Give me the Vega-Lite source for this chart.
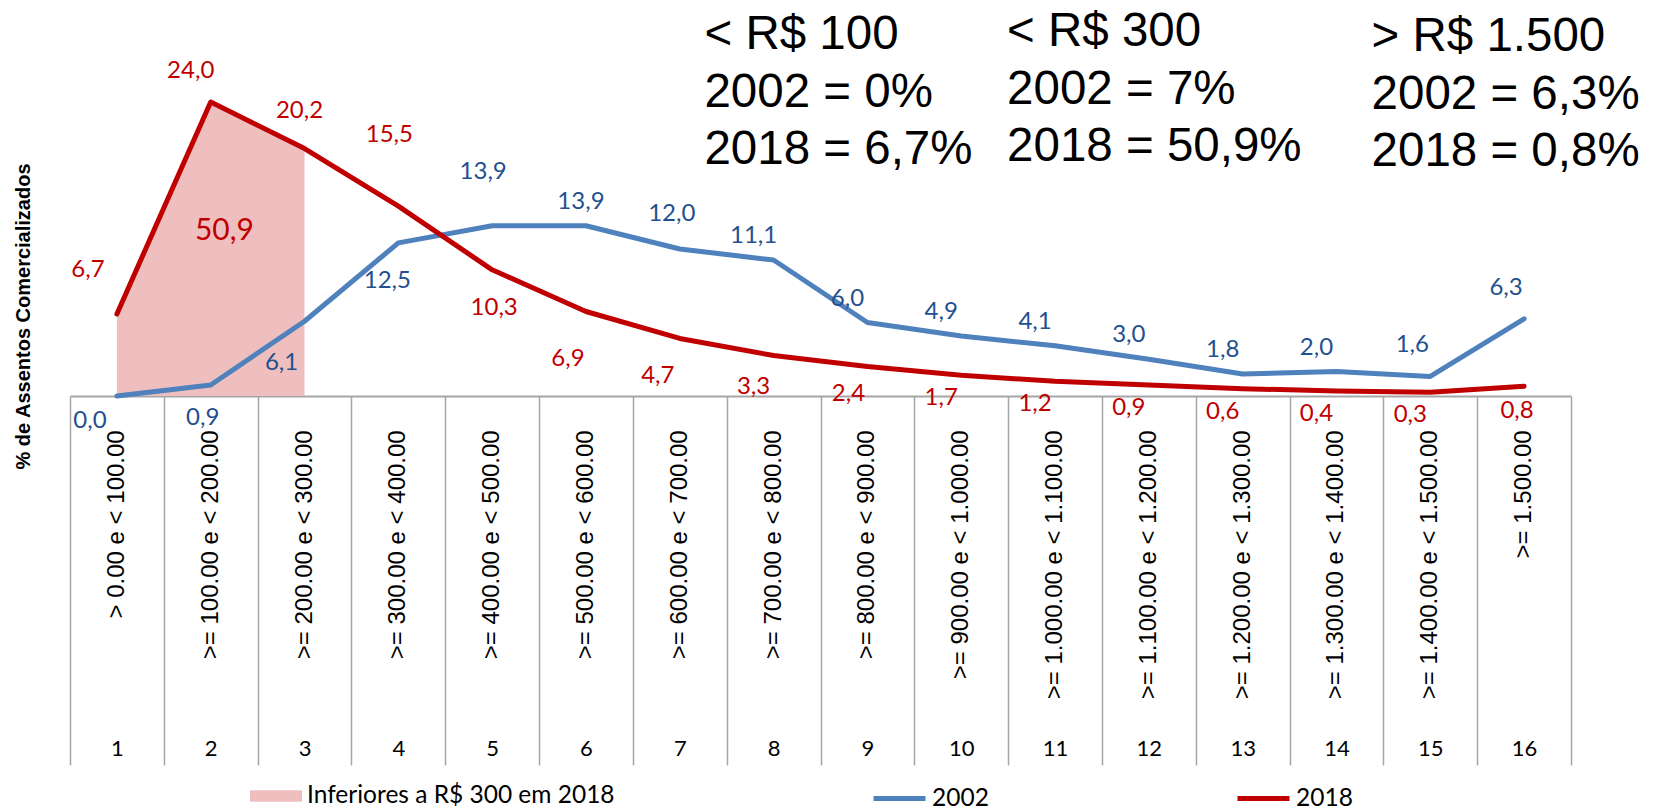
{
  "$schema": "https://vega.github.io/schema/vega-lite/v6.json",
  "width": 1501,
  "height": 392,
  "autosize": {"type": "none"},
  "padding": {"left": 70, "top": 4, "right": 93, "bottom": 412},
  "background": "#ffffff",
  "config": {
    "view": {"stroke": null},
    "locale": {"number": {"decimal": ",", "thousands": ".", "grouping": [3], "currency": ["R$ ", ""]}},
    "text": {"font": "Lato", "fontSize": 24}
  },
  "datasets": {
    "serie": [
      {"cat": 1, "series": "2002", "value": 0.0},
      {"cat": 2, "series": "2002", "value": 0.9},
      {"cat": 3, "series": "2002", "value": 6.1},
      {"cat": 4, "series": "2002", "value": 12.5},
      {"cat": 5, "series": "2002", "value": 13.9},
      {"cat": 6, "series": "2002", "value": 13.9},
      {"cat": 7, "series": "2002", "value": 12.0},
      {"cat": 8, "series": "2002", "value": 11.1},
      {"cat": 9, "series": "2002", "value": 6.0},
      {"cat": 10, "series": "2002", "value": 4.9},
      {"cat": 11, "series": "2002", "value": 4.1},
      {"cat": 12, "series": "2002", "value": 3.0},
      {"cat": 13, "series": "2002", "value": 1.8},
      {"cat": 14, "series": "2002", "value": 2.0},
      {"cat": 15, "series": "2002", "value": 1.6},
      {"cat": 16, "series": "2002", "value": 6.3},
      {"cat": 1, "series": "2018", "value": 6.7},
      {"cat": 2, "series": "2018", "value": 24.0},
      {"cat": 3, "series": "2018", "value": 20.2},
      {"cat": 4, "series": "2018", "value": 15.5},
      {"cat": 5, "series": "2018", "value": 10.3},
      {"cat": 6, "series": "2018", "value": 6.9},
      {"cat": 7, "series": "2018", "value": 4.7},
      {"cat": 8, "series": "2018", "value": 3.3},
      {"cat": 9, "series": "2018", "value": 2.4},
      {"cat": 10, "series": "2018", "value": 1.7},
      {"cat": 11, "series": "2018", "value": 1.2},
      {"cat": 12, "series": "2018", "value": 0.9},
      {"cat": 13, "series": "2018", "value": 0.6},
      {"cat": 14, "series": "2018", "value": 0.4},
      {"cat": 15, "series": "2018", "value": 0.3},
      {"cat": 16, "series": "2018", "value": 0.8}
    ],
    "categorias": [
      {"cat": 1, "faixa": "> 0.00 e < 100.00"},
      {"cat": 2, "faixa": ">= 100.00 e < 200.00"},
      {"cat": 3, "faixa": ">= 200.00 e < 300.00"},
      {"cat": 4, "faixa": ">= 300.00 e < 400.00"},
      {"cat": 5, "faixa": ">= 400.00 e < 500.00"},
      {"cat": 6, "faixa": ">= 500.00 e < 600.00"},
      {"cat": 7, "faixa": ">= 600.00 e < 700.00"},
      {"cat": 8, "faixa": ">= 700.00 e < 800.00"},
      {"cat": 9, "faixa": ">= 800.00 e < 900.00"},
      {"cat": 10, "faixa": ">= 900.00 e < 1.000.00"},
      {"cat": 11, "faixa": ">= 1.000.00 e < 1.100.00"},
      {"cat": 12, "faixa": ">= 1.100.00 e < 1.200.00"},
      {"cat": 13, "faixa": ">= 1.200.00 e < 1.300.00"},
      {"cat": 14, "faixa": ">= 1.300.00 e < 1.400.00"},
      {"cat": 15, "faixa": ">= 1.400.00 e < 1.500.00"},
      {"cat": 16, "faixa": ">= 1.500.00"}
    ],
    "notas": [
      {"id": "a", "texto": "< R$ 100\n2002 = 0%\n2018 = 6,7%"},
      {"id": "b", "texto": "< R$ 300\n2002 = 7%\n2018 = 50,9%"},
      {"id": "c", "texto": "> R$ 1.500\n2002 = 6,3%\n2018 = 0,8%"},
      {"id": "d", "texto": "50,9"}
    ]
  },
  "layer": [
    {
      "data": {"name": "serie"},
      "transform": [{"filter": "datum.series == '2018' && datum.cat <= 3"}],
      "mark": {"type": "area", "opacity": 1, "interpolate": "linear"},
      "encoding": {
        "x": {"field": "cat", "type": "ordinal", "bandPosition": 0.5,
          "scale": {"type": "band", "paddingInner": 0, "paddingOuter": 0},
          "axis": {"title": null, "tickBand": "extent", "tickSize": 369, "tickColor": "#A6A6A6", "tickWidth": 1.5,
            "domainColor": "#A6A6A6", "domainWidth": 2, "labelAngle": 0,
            "labelFont": "Lato", "labelFontSize": 22, "labelColor": "#000000",
            "labelBaseline": "middle", "labelPadding": -17, "grid": false}},
        "y": {"field": "value", "type": "quantitative",
          "scale": {"domain": [0, 32], "nice": false, "zero": true},
          "axis": {"title": "% de Assentos Comercializados", "domain": false, "ticks": false, "labels": false, "grid": false,
            "titleFont": "Liberation Sans", "titleFontSize": 20, "titleFontWeight": "bold", "titleColor": "#000000",
            "titleAngle": 270, "titleAlign": "center", "titleBaseline": "middle", "titleX": -47, "titleY": 312}},
        "y2": {"datum": 0},
        "fill": {"datum": "Inferiores a R$ 300 em 2018", "type": "nominal",
          "scale": {"range": ["#EFBFBF"]},
          "legend": {"orient": "none", "legendX": 180, "legendY": 766, "title": null,
            "symbolType": "M-1,-0.22H1V0.22H-1Z", "symbolSize": 2704, "symbolStrokeWidth": 0, "symbolOpacity": 1,
            "labelFont": "Lato", "labelFontSize": 24.5, "labelColor": "#000000",
            "labelOffset": 5, "padding": 0, "labelLimit": 500}}
      }
    },
    {
      "data": {"name": "serie"},
      "mark": {"type": "line", "strokeWidth": 5, "strokeJoin": "round", "strokeCap": "round"},
      "encoding": {
        "x": {"field": "cat", "type": "ordinal", "bandPosition": 0.5},
        "y": {"field": "value", "type": "quantitative"},
        "stroke": {"field": "series", "type": "nominal",
          "scale": {"domain": ["2002", "2018"], "range": ["#4F81BD", "#C00000"]},
          "legend": {"orient": "none", "legendX": 801, "legendY": 766, "direction": "vertical", "columns": 2, "title": null,
            "symbolType": "stroke", "symbolSize": 2704, "symbolStrokeWidth": 5,
            "labelFont": "Lato", "labelFontSize": 24.5, "labelColor": "#000000", "labelLimit": 500,
            "labelOffset": 4, "columnPadding": 238, "padding": 0}}
      }
    },
    {
      "data": {"name": "categorias"},
      "mark": {"type": "text", "angle": 270, "align": "right", "baseline": "middle", "font": "Liberation Sans", "fontSize": 24, "color": "#000000"},
      "encoding": {
        "x": {"field": "cat", "type": "ordinal", "bandPosition": 0.5},
        "y": {"datum": -2.8, "type": "quantitative"},
        "text": {"field": "faixa"}
      }
    },
    {"data": {"name": "serie"}, "transform": [{"filter": "datum.series == '2018' && datum.cat == 1"}],
      "mark": {"type": "text", "dx": -29, "dy": -44, "color": "#C00000"},
      "encoding": {"x": {"field": "cat", "type": "ordinal", "bandPosition": 0.5}, "y": {"field": "value", "type": "quantitative"}, "text": {"field": "value", "type": "quantitative", "format": ".1f"}}},
    {"data": {"name": "serie"}, "transform": [{"filter": "datum.series == '2018' && datum.cat == 2"}],
      "mark": {"type": "text", "dx": -20, "dy": -31, "color": "#C00000"},
      "encoding": {"x": {"field": "cat", "type": "ordinal", "bandPosition": 0.5}, "y": {"field": "value", "type": "quantitative"}, "text": {"field": "value", "type": "quantitative", "format": ".1f"}}},
    {"data": {"name": "serie"}, "transform": [{"filter": "datum.series == '2018' && datum.cat == 3"}],
      "mark": {"type": "text", "dx": -5, "dy": -38, "color": "#C00000"},
      "encoding": {"x": {"field": "cat", "type": "ordinal", "bandPosition": 0.5}, "y": {"field": "value", "type": "quantitative"}, "text": {"field": "value", "type": "quantitative", "format": ".1f"}}},
    {"data": {"name": "serie"}, "transform": [{"filter": "datum.series == '2018' && datum.cat == 4"}],
      "mark": {"type": "text", "dx": -9, "dy": -71, "color": "#C00000"},
      "encoding": {"x": {"field": "cat", "type": "ordinal", "bandPosition": 0.5}, "y": {"field": "value", "type": "quantitative"}, "text": {"field": "value", "type": "quantitative", "format": ".1f"}}},
    {"data": {"name": "serie"}, "transform": [{"filter": "datum.series == '2018' && datum.cat == 5"}],
      "mark": {"type": "text", "dx": 2, "dy": 38, "color": "#C00000"},
      "encoding": {"x": {"field": "cat", "type": "ordinal", "bandPosition": 0.5}, "y": {"field": "value", "type": "quantitative"}, "text": {"field": "value", "type": "quantitative", "format": ".1f"}}},
    {"data": {"name": "serie"}, "transform": [{"filter": "datum.series == '2018' && datum.cat == 6"}],
      "mark": {"type": "text", "dx": -18, "dy": 48, "color": "#C00000"},
      "encoding": {"x": {"field": "cat", "type": "ordinal", "bandPosition": 0.5}, "y": {"field": "value", "type": "quantitative"}, "text": {"field": "value", "type": "quantitative", "format": ".1f"}}},
    {"data": {"name": "serie"}, "transform": [{"filter": "datum.series == '2018' && datum.cat == 7"}],
      "mark": {"type": "text", "dx": -22, "dy": 38, "color": "#C00000"},
      "encoding": {"x": {"field": "cat", "type": "ordinal", "bandPosition": 0.5}, "y": {"field": "value", "type": "quantitative"}, "text": {"field": "value", "type": "quantitative", "format": ".1f"}}},
    {"data": {"name": "serie"}, "transform": [{"filter": "datum.series == '2018' && datum.cat == 8"}],
      "mark": {"type": "text", "dx": -20, "dy": 31, "color": "#C00000"},
      "encoding": {"x": {"field": "cat", "type": "ordinal", "bandPosition": 0.5}, "y": {"field": "value", "type": "quantitative"}, "text": {"field": "value", "type": "quantitative", "format": ".1f"}}},
    {"data": {"name": "serie"}, "transform": [{"filter": "datum.series == '2018' && datum.cat == 9"}],
      "mark": {"type": "text", "dx": -19, "dy": 27, "color": "#C00000"},
      "encoding": {"x": {"field": "cat", "type": "ordinal", "bandPosition": 0.5}, "y": {"field": "value", "type": "quantitative"}, "text": {"field": "value", "type": "quantitative", "format": ".1f"}}},
    {"data": {"name": "serie"}, "transform": [{"filter": "datum.series == '2018' && datum.cat >= 10 && datum.cat <= 15"}],
      "mark": {"type": "text", "dx": -20, "dy": 23, "color": "#C00000"},
      "encoding": {"x": {"field": "cat", "type": "ordinal", "bandPosition": 0.5}, "y": {"field": "value", "type": "quantitative"}, "text": {"field": "value", "type": "quantitative", "format": ".1f"}}},
    {"data": {"name": "serie"}, "transform": [{"filter": "datum.series == '2018' && datum.cat == 16"}],
      "mark": {"type": "text", "dx": -7, "dy": 25, "color": "#C00000"},
      "encoding": {"x": {"field": "cat", "type": "ordinal", "bandPosition": 0.5}, "y": {"field": "value", "type": "quantitative"}, "text": {"field": "value", "type": "quantitative", "format": ".1f"}}},
    {"data": {"name": "serie"}, "transform": [{"filter": "datum.series == '2002' && datum.cat == 1"}],
      "mark": {"type": "text", "dx": -27, "dy": 25, "color": "#22508F"},
      "encoding": {"x": {"field": "cat", "type": "ordinal", "bandPosition": 0.5}, "y": {"field": "value", "type": "quantitative"}, "text": {"field": "value", "type": "quantitative", "format": ".1f"}}},
    {"data": {"name": "serie"}, "transform": [{"filter": "datum.series == '2002' && datum.cat == 2"}],
      "mark": {"type": "text", "dx": -8, "dy": 33, "color": "#22508F"},
      "encoding": {"x": {"field": "cat", "type": "ordinal", "bandPosition": 0.5}, "y": {"field": "value", "type": "quantitative"}, "text": {"field": "value", "type": "quantitative", "format": ".1f"}}},
    {"data": {"name": "serie"}, "transform": [{"filter": "datum.series == '2002' && datum.cat == 3"}],
      "mark": {"type": "text", "dx": -23, "dy": 42, "color": "#22508F"},
      "encoding": {"x": {"field": "cat", "type": "ordinal", "bandPosition": 0.5}, "y": {"field": "value", "type": "quantitative"}, "text": {"field": "value", "type": "quantitative", "format": ".1f"}}},
    {"data": {"name": "serie"}, "transform": [{"filter": "datum.series == '2002' && datum.cat == 4"}],
      "mark": {"type": "text", "dx": -11, "dy": 38, "color": "#22508F"},
      "encoding": {"x": {"field": "cat", "type": "ordinal", "bandPosition": 0.5}, "y": {"field": "value", "type": "quantitative"}, "text": {"field": "value", "type": "quantitative", "format": ".1f"}}},
    {"data": {"name": "serie"}, "transform": [{"filter": "datum.series == '2002' && datum.cat == 5"}],
      "mark": {"type": "text", "dx": -9, "dy": -54, "color": "#22508F"},
      "encoding": {"x": {"field": "cat", "type": "ordinal", "bandPosition": 0.5}, "y": {"field": "value", "type": "quantitative"}, "text": {"field": "value", "type": "quantitative", "format": ".1f"}}},
    {"data": {"name": "serie"}, "transform": [{"filter": "datum.series == '2002' && datum.cat == 6"}],
      "mark": {"type": "text", "dx": -5, "dy": -24, "color": "#22508F"},
      "encoding": {"x": {"field": "cat", "type": "ordinal", "bandPosition": 0.5}, "y": {"field": "value", "type": "quantitative"}, "text": {"field": "value", "type": "quantitative", "format": ".1f"}}},
    {"data": {"name": "serie"}, "transform": [{"filter": "datum.series == '2002' && datum.cat == 7"}],
      "mark": {"type": "text", "dx": -8, "dy": -35, "color": "#22508F"},
      "encoding": {"x": {"field": "cat", "type": "ordinal", "bandPosition": 0.5}, "y": {"field": "value", "type": "quantitative"}, "text": {"field": "value", "type": "quantitative", "format": ".1f"}}},
    {"data": {"name": "serie"}, "transform": [{"filter": "datum.series == '2002' && datum.cat >= 8 && datum.cat <= 14"}],
      "mark": {"type": "text", "dx": -20, "dy": -24, "color": "#22508F"},
      "encoding": {"x": {"field": "cat", "type": "ordinal", "bandPosition": 0.5}, "y": {"field": "value", "type": "quantitative"}, "text": {"field": "value", "type": "quantitative", "format": ".1f"}}},
    {"data": {"name": "serie"}, "transform": [{"filter": "datum.series == '2002' && datum.cat >= 15"}],
      "mark": {"type": "text", "dx": -18, "dy": -31, "color": "#22508F"},
      "encoding": {"x": {"field": "cat", "type": "ordinal", "bandPosition": 0.5}, "y": {"field": "value", "type": "quantitative"}, "text": {"field": "value", "type": "quantitative", "format": ".1f"}}},
    {
      "data": {"name": "notas"},
      "transform": [{"filter": "datum.id == 'a'"}],
      "mark": {"type": "text", "align": "left", "baseline": "alphabetic", "lineBreak": "\n", "lineHeight": 57.5, "font": "Liberation Sans", "fontSize": 47.5, "color": "#000000"},
      "encoding": {"x": {"datum": 7, "type": "ordinal", "bandPosition": 0.763}, "y": {"datum": 28.3, "type": "quantitative"}, "text": {"field": "texto"}}
    },
    {
      "data": {"name": "notas"},
      "transform": [{"filter": "datum.id == 'b'"}],
      "mark": {"type": "text", "align": "left", "baseline": "alphabetic", "lineBreak": "\n", "lineHeight": 57.5, "font": "Liberation Sans", "fontSize": 47.5, "color": "#000000"},
      "encoding": {"x": {"datum": 10, "type": "ordinal", "bandPosition": 0.989}, "y": {"datum": 28.57, "type": "quantitative"}, "text": {"field": "texto"}}
    },
    {
      "data": {"name": "notas"},
      "transform": [{"filter": "datum.id == 'c'"}],
      "mark": {"type": "text", "align": "left", "baseline": "alphabetic", "lineBreak": "\n", "lineHeight": 57.5, "font": "Liberation Sans", "fontSize": 47.5, "color": "#000000"},
      "encoding": {"x": {"datum": 14, "type": "ordinal", "bandPosition": 0.874}, "y": {"datum": 28.16, "type": "quantitative"}, "text": {"field": "texto"}}
    },
    {
      "data": {"name": "notas"},
      "transform": [{"filter": "datum.id == 'd'"}],
      "mark": {"type": "text", "align": "center", "baseline": "middle", "fontSize": 30, "color": "#C00000"},
      "encoding": {"x": {"datum": 2, "type": "ordinal", "bandPosition": 0.646}, "y": {"datum": 13.5, "type": "quantitative"}, "text": {"field": "texto"}}
    }
  ]
}
